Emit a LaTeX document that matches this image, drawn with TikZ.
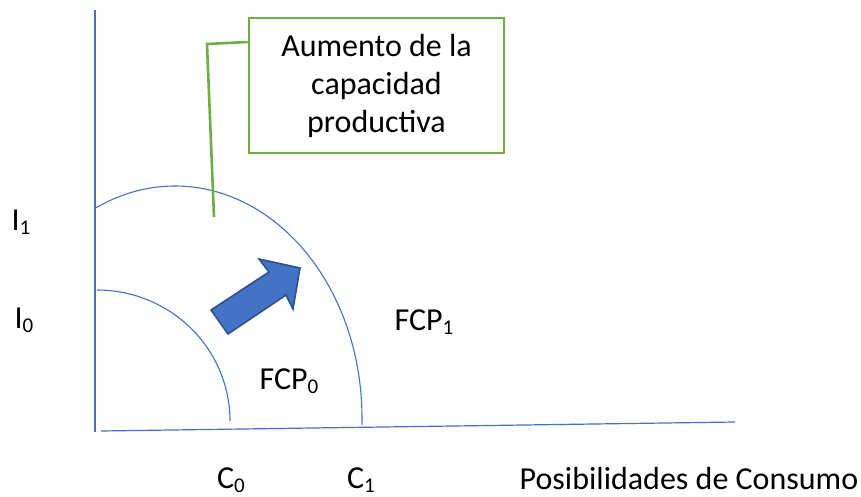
\documentclass[tikz,border=0pt]{standalone}
\usepackage{fontspec}
\setmainfont{Carlito}
\definecolor{axblue}{HTML}{4472C4}
\definecolor{arrowedge}{HTML}{2F528F}
\definecolor{callgreen}{HTML}{70AD47}
\newcommand\subsc[1]{\raisebox{-4pt}{\fontsize{21}{21}\selectfont #1}}
\begin{document}
\begin{tikzpicture}[x=1pt,y=-1pt,
  axisline/.style={draw=axblue, line width=1.2pt},
  curveline/.style={draw=axblue, line width=1.1pt},
  lbl/.style={inner sep=0pt, font=\fontsize{32}{38}\selectfont},
  callbox/.style={draw=callgreen, line width=2.6pt, minimum width=255pt, minimum height=135pt, align=center, font=\fontsize{32}{38}\selectfont, inner sep=0pt},
  leader/.style={draw=callgreen, line width=2.6pt},
  blockarrow/.style={fill=axblue, draw=arrowedge, line width=1.6pt, line join=miter}]
\useasboundingbox (0,0) rectangle (861,497);
\fill[white] (0,0) rectangle (861,497);
% axes
\draw[axisline] (95,10) -- (95,432);
\draw[axisline] (101,431) -- (735,422);
% frontiers
\draw[curveline] plot[domain=0:90,samples=80] ({97+133*cos(\x)},{421-131*sin(\x)});
\draw[curveline] plot[domain=-1.7:115.3,samples=120] ({175+187*cos(\x)},{418-232*sin(\x)});
% block arrow
\draw[blockarrow] (211,310) -- (269,272) -- (259,259) -- (300,268) -- (293,309) -- (286,295) -- (228,334) -- cycle;
% callout
\node[callbox] (box) at (376.5,85.5) {Aumento de la\\capacidad\\productiva};
\coordinate (bend) at (207,44);
\coordinate (lead) at (214,217);
\draw[leader] ([yshift=43.5pt]box.west) -- (bend) -- (lead);
% labels
\node[lbl] (i1) at (21,222) {I\subsc{1}};
\node[lbl] (i0) at (24,320) {I\subsc{0}};
\node[lbl] (fcp1) at (424,322) {FCP\subsc{1}};
\node[lbl] (fcp0) at (289,381) {FCP\subsc{0}};
\node[lbl] (c0) at (231,480) {C\subsc{0}};
\node[lbl] (c1) at (361,480) {C\subsc{1}};
\node[lbl] (pos) at (689,479) {Posibilidades de Consumo};
\end{tikzpicture}
\end{document}
